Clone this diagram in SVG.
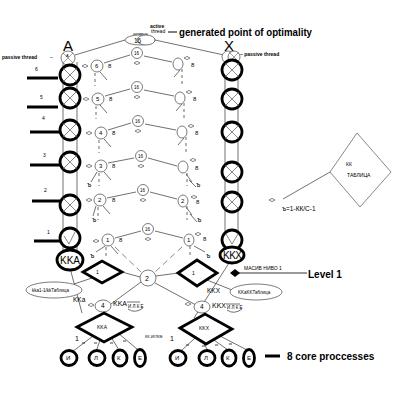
<svg xmlns="http://www.w3.org/2000/svg" width="400" height="400" viewBox="0 0 400 400">
<defs>
<style>
text{font-family:"Liberation Sans",Arial,sans-serif;fill:#000}
.s{font-size:5px}
.m{font-size:6.5px}
.b{font-weight:bold}
.ln{stroke:#333;stroke-width:0.7;fill:none}
.th{stroke:#000;stroke-width:2.8;fill:#fff}
.tn{stroke:#444;stroke-width:0.7;fill:#fff}
.ds{stroke:#444;stroke-width:0.8;stroke-dasharray:3 3;fill:none}
.dsl{stroke:#555;stroke-width:0.7;stroke-dasharray:6 4;fill:none}
.bar{stroke:#000;stroke-width:3}
</style>
<g id="dm"><path d="M-3,0 L0,-1.6 L3,0 L0,1.6 Z" fill="none" stroke="#333" stroke-width="0.6"/></g>
<g id="xc"><circle r="10" class="th"/><path d="M-7,-7 L7,7 M7,-7 L-7,7" stroke="#555" stroke-width="0.7"/></g>
</defs>

<!-- title texts -->
<text x="150" y="28" class="s b">active</text>
<text x="151" y="33" class="s">thread</text>
<line x1="168" y1="32" x2="177" y2="32" stroke="#000" stroke-width="1"/>
<text x="179" y="36" font-size="10.5" class="b" textLength="133" lengthAdjust="spacingAndGlyphs">generated point of optimality</text>
<text x="63" y="51" font-size="15">A</text>
<text x="224" y="51" font-size="15">X</text>
<text x="2" y="59" class="s b">passive thread</text>
<text x="50" y="59" class="s">–</text>
<text x="240" y="56" class="s b">– passive thread</text>

<!-- connectors -->
<g id="connectors">
<line x1="125" y1="40" x2="75" y2="55" class="ln"/>
<line x1="155" y1="40" x2="224" y2="55" class="ln"/>
<line x1="63" y1="62" x2="63" y2="252" class="ln"/>
<line x1="77" y1="62" x2="77" y2="252" class="ln"/>
<line x1="225" y1="62" x2="225" y2="248" class="ln"/>
<line x1="238" y1="62" x2="238" y2="248" class="ln"/>
<line x1="27" y1="78" x2="58" y2="78" class="bar"/>
<line x1="27" y1="107" x2="58" y2="107" class="bar"/>
<line x1="30" y1="132" x2="60" y2="132" class="bar"/>
<line x1="30" y1="165" x2="60" y2="165" class="bar"/>
<line x1="32" y1="201" x2="60" y2="201" class="bar"/>
<line x1="34" y1="241" x2="60" y2="241" class="bar"/>
<g class="ln">
<path d="M104,63 L130,55 M144,56 L172,62"/>
<path d="M105,96 L130,89 M144,90 L174,96"/>
<path d="M108,130 L131,123 M145,124 L176,130"/>
<path d="M108,163 L134,158 M148,158 L177,166"/>
<path d="M107,198 L136,192 M150,192 L177,199"/>
<path d="M115,238 L141,231 M155,231 L183,238"/>
<path d="M100,72 L107,80 M100,105 L107,113 M104,139 L111,147 M104,172 L111,180 M103,206 L110,214 M111,246 L118,254"/>
<path d="M180,70 L174,77 M182,104 L176,111 M184,138 L178,145 M186,174 L192,182 M186,207 L192,215"/>
<path d="M97,172 L91,182 M96,206 L93,216 M105,246 L96,252"/>
<path d="M189,180 L196,187 M190,214 L197,222 M194,246 L205,252"/>
</g>
<g class="ds">
<path d="M95,73 V86 M96,106 V119 M99,140 V153 M99,173 V186 M98,207 V220 M106,247 V258"/>
<path d="M182,69 V84 M184,103 V118 M186,137 V152 M187,173 V186 M187,206 V220 M190,246 V258"/>
</g>
<g class="dsl">
<path d="M115,247 L141,272 M182,247 L155,272"/>
</g>
<line x1="70" y1="268" x2="82" y2="313" class="ln"/>
<line x1="92" y1="278" x2="74" y2="284" class="ln"/>
<line x1="122" y1="272" x2="140" y2="277" class="ln"/>
<line x1="156" y1="276" x2="178" y2="273" class="ln"/>
<line x1="141" y1="282" x2="111" y2="304" class="ln"/>
<line x1="155" y1="283" x2="196" y2="305" class="ln"/>
<line x1="207" y1="280" x2="232" y2="290" class="ln"/>
<line x1="229" y1="263" x2="194" y2="318" class="ln"/>
<line x1="330" y1="172" x2="283" y2="199" class="ln"/>
<line x1="238" y1="273" x2="307" y2="273" stroke="#000" stroke-width="0.8"/>
<line x1="265" y1="356" x2="280" y2="356" class="bar"/>
<path d="M93,336 L72,352 M100,340 L97,349 M111,337 L119,350 M118,333 L137,349" class="ln"/>
<path d="M195,338 L181,351 M203,342 L207,349 M214,340 L228,350 M220,336 L247,350" class="ln"/>
</g>

<g id="top">
<ellipse cx="140" cy="40" rx="15" ry="5" class="tn"/>
<ellipse cx="146" cy="40" rx="9" ry="5" class="tn" fill="none"/>
<text x="133" y="35" font-size="4">активна</text>
<text x="134" y="43" class="m">16</text>
</g>

<g id="colA">
<circle cx="68" cy="58" r="7" class="tn"/>
<path d="M63,53 L73,63 M73,53 L63,63" stroke="#666" stroke-width="0.6"/>
<text x="66" y="57" font-size="4">A</text>
<use href="#xc" x="70" y="75"/>
<use href="#xc" x="70" y="98"/>
<use href="#xc" x="70" y="130"/>
<use href="#xc" x="70" y="162"/>
<use href="#xc" x="70" y="205"/>
<circle cx="70" cy="238" r="10" class="th"/>
<path d="M64,236 L69,244 L75,232" stroke="#555" stroke-width="0.7" fill="none"/>
<ellipse cx="70" cy="260" rx="13" ry="10" class="th"/>
<text x="60" y="264" font-size="10" textLength="20">KKA</text>
<text x="35" y="71" class="s">6</text>
<text x="40" y="99" class="s">5</text>
<text x="42" y="120" class="s">4</text>
<text x="43" y="157" class="s">3</text>
<text x="44" y="192" class="s">2</text>
<text x="47" y="234" class="s">1</text>
</g>

<g id="colX">
<circle cx="228" cy="57" r="6" class="tn"/>
<circle cx="234" cy="57" r="6" class="tn" fill="none"/>
<path d="M229,52 L239,62 M239,52 L229,62" stroke="#666" stroke-width="0.6"/>
<use href="#xc" x="232" y="70"/>
<use href="#xc" x="232" y="99"/>
<use href="#xc" x="232" y="132"/>
<use href="#xc" x="232" y="172"/>
<use href="#xc" x="232" y="202"/>
<circle cx="232" cy="240" r="10" class="th"/>
<path d="M226,234 L232,244 L238,234" stroke="#555" stroke-width="0.7" fill="none"/>
<ellipse cx="232" cy="255" rx="12" ry="8" class="th"/>
<text x="223" y="259" font-size="10" textLength="19">KKX</text>
</g>

<g id="lattice" font-size="6">
<g class="tn">
<circle cx="97" cy="66" r="6"/><circle cx="98" cy="99" r="6"/><circle cx="101" cy="133" r="6"/>
<circle cx="101" cy="166" r="6"/><circle cx="100" cy="200" r="6"/><circle cx="108" cy="240" r="6"/>
<circle cx="137" cy="53" r="5.5"/><circle cx="137" cy="87" r="5.5"/><circle cx="138" cy="121" r="5.5"/>
<circle cx="141" cy="156" r="5.5"/><circle cx="143" cy="190" r="5.5"/><circle cx="148" cy="229" r="5.5"/>
<ellipse cx="178" cy="64" rx="5" ry="6"/><ellipse cx="180" cy="98" rx="5" ry="6"/><ellipse cx="182" cy="132" rx="5" ry="6"/>
<ellipse cx="183" cy="167" rx="5" ry="6"/><ellipse cx="183" cy="201" rx="5" ry="6"/><ellipse cx="189" cy="240" rx="5" ry="6"/>
</g>
<text x="95" y="68">6</text><text x="96" y="101">5</text><text x="99" y="135">4</text>
<text x="99" y="168">3</text><text x="98" y="202">2</text><text x="106" y="242">1</text>
<text x="181" y="203">2</text><text x="187" y="242">1</text>
<g font-size="4.5">
<text x="134" y="55">16</text><text x="134" y="89">16</text><text x="135" y="123">16</text>
<text x="138" y="158">16</text><text x="140" y="192">16</text><text x="145" y="231">16</text>
</g>
<text x="108" y="68">8</text><text x="109" y="101">8</text><text x="112" y="135">8</text>
<text x="112" y="168">8</text><text x="112" y="202">8</text><text x="119" y="242">8</text>
<text x="191" y="67">8</text><text x="193" y="101">8</text><text x="195" y="135">8</text>
<text x="195" y="170">8</text><text x="196" y="204">8</text><text x="203" y="241">8</text>
<use href="#dm" x="85" y="66"/><use href="#dm" x="86" y="99"/><use href="#dm" x="89" y="133"/>
<use href="#dm" x="89" y="166"/><use href="#dm" x="89" y="200"/><use href="#dm" x="96" y="241"/>
<use href="#dm" x="137" y="63"/><use href="#dm" x="137" y="97"/><use href="#dm" x="138" y="131"/>
<use href="#dm" x="141" y="166"/><use href="#dm" x="143" y="200"/><use href="#dm" x="148" y="239"/>
<use href="#dm" x="187" y="58"/><use href="#dm" x="189" y="92"/><use href="#dm" x="191" y="126"/>
<use href="#dm" x="193" y="160"/><use href="#dm" x="194" y="197"/><use href="#dm" x="198" y="234"/>
<g font-size="7" font-family="Liberation Serif,serif">
<text x="87" y="187">ъ</text><text x="92" y="222">ъ</text><text x="90" y="258">ъ</text>
<text x="196" y="187">ъ</text><text x="197" y="222">ъ</text><text x="206" y="258">ъ</text>
</g>
</g>

<g id="kktable">
<path d="M330,172 L357,133 L391,172 L360,207 Z" fill="#fff" stroke="#555" stroke-width="0.7"/>
<text x="346" y="166" class="s">КК</text>
<text x="347" y="177" class="s">ТАБЛИЦА</text>
<use href="#dm" x="272" y="200"/>
<text x="282" y="211" class="m">ъ=1-КК/С-1</text>
</g>

<g id="level1">
<path d="M83,272 L102,261 L122,272 L102,283 Z" class="th"/>
<text x="96" y="274" class="s">1</text>
<path d="M178,273 L197,260 L217,273 L197,286 Z" class="th"/>
<text x="192" y="275" class="s">1</text>
<circle cx="148" cy="278" r="8" class="tn"/>
<text x="145" y="281" font-size="7">2</text>
<path d="M230,273 L235,269 L240,273 L235,277 Z" fill="#000"/>
<text x="244" y="270" class="s">МАСИВ НИВО 1</text>
<text x="308" y="278" font-size="10" class="b">Level 1</text>
<ellipse cx="54" cy="290" rx="28" ry="8" class="tn"/>
<text x="32" y="292" font-size="4.5">kka1-1/kkТаблица</text>
<ellipse cx="256" cy="292" rx="26" ry="8" class="tn"/>
<text x="238" y="294" font-size="4.5">KKaKKТаблица</text>
<text x="73" y="302" class="m">KKa</text>
<text x="207" y="293" class="m">KKX</text>
</g>

<g id="n4">
<ellipse cx="103" cy="306" rx="8" ry="6" class="tn"/>
<text x="101" y="308" class="m">4</text>
<use href="#dm" x="91" y="305"/>
<text x="113" y="306" font-size="7">KKA</text>
<path d="M127,302 H140 M128,309 Q135,314 143,308" class="ln"/>
<text x="128" y="308" font-size="4.5">И Л К Е</text>
<ellipse cx="202" cy="307" rx="8" ry="6" class="tn"/>
<text x="200" y="309" class="m">4</text>
<use href="#dm" x="188" y="304"/>
<text x="212" y="308" font-size="7">KKX</text>
<path d="M226,304 H240 M227,310 Q234,315 242,309" class="ln"/>
<text x="227" y="309" font-size="4.5">И Л К Е</text>
</g>

<g id="kka">
<path d="M77,327 L104,313 L132,327 L104,342 Z" class="th"/>
<text x="97" y="329" class="s">KKA</text>
</g>
<g id="kkx">
<path d="M180,328 L205,314 L232,329 L206,344 Z" class="th"/>
<text x="199" y="330" class="s">KKX</text>
</g>
<text x="75" y="341" font-size="7">1</text>
<text x="170" y="341" font-size="7">1</text>
<text x="145" y="338" font-size="4">КК-И/ЛКЕ</text>
<g font-size="3.5">
<text x="82" y="344">кк</text><text x="94" y="344">кк</text><text x="110" y="344">кк</text><text x="123" y="342">кк</text>
<text x="186" y="346">кк</text><text x="202" y="347">кк</text><text x="215" y="346">кк</text><text x="229" y="345">кк</text>
</g>

<g id="cores">
<g class="th" stroke-width="2.4">
<ellipse cx="69" cy="358" rx="8" ry="7.5"/><ellipse cx="97" cy="358" rx="8" ry="7.5"/>
<ellipse cx="120" cy="358" rx="7" ry="8"/><ellipse cx="140" cy="358" rx="5.5" ry="8.5"/>
<ellipse cx="178" cy="358" rx="8" ry="7.5"/><ellipse cx="207" cy="358" rx="8" ry="7.5"/>
<ellipse cx="229" cy="358" rx="7" ry="8"/><ellipse cx="249" cy="358" rx="5.5" ry="8.5"/>
</g>
<g font-size="6">
<text x="66" y="360">И</text><text x="94" y="360">Л</text><text x="117" y="360">К</text><text x="138" y="360">Е</text>
<text x="175" y="360">И</text><text x="204" y="360">Л</text><text x="226" y="360">К</text><text x="247" y="360">Е</text>
</g>
<text x="287" y="360" font-size="10" class="b">8 core proccesses</text>
</g>
</svg>
